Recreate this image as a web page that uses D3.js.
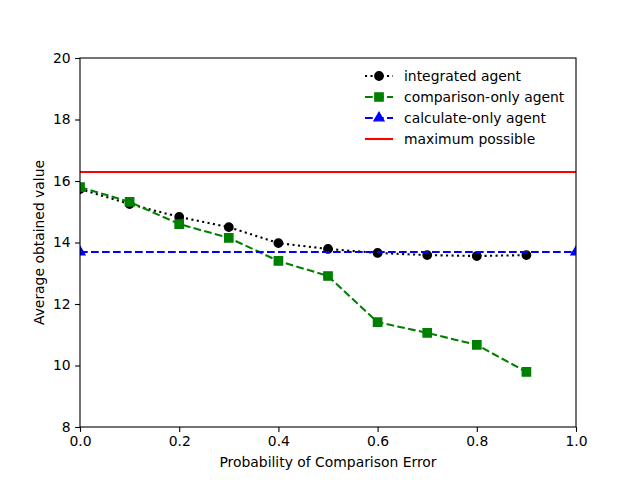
<!DOCTYPE html>
<html>
<head>
<meta charset="utf-8">
<script src="https://cdn.jsdelivr.net/npm/d3@7"></script>
<style>
  body { margin: 0; background: #fff; }
  svg { font-family: "DejaVu Sans", sans-serif; }
</style>
</head>
<body>
<div id="chart"></div>
<script>
// Data
const errorProb = [0, 0.1, 0.2, 0.3, 0.4, 0.5, 0.6, 0.7, 0.8, 0.9];
const integrated = [15.74, 15.25, 14.83, 14.50, 13.98, 13.79, 13.66, 13.59, 13.56, 13.59];
const comparisonOnly = [15.80, 15.32, 14.60, 14.15, 13.40, 12.91, 11.41, 11.06, 10.67, 9.79];
const calculateOnlyX = [0, 1];
const calculateOnly = [13.69, 13.69];
const maxPossible = 16.29;
const xTicks = [0, 0.2, 0.4, 0.6, 0.8, 1.0];
const yTicks = [8, 10, 12, 14, 16, 18, 20];

const W = 640, H = 480;
const margin = { left: 80, right: 64, top: 58, bottom: 53 };
const FS = 13.9;

const svg = d3.select("#chart").append("svg")
    .attr("width", W)
    .attr("height", H);

const x = d3.scaleLinear().domain([0, 1]).range([margin.left, W - margin.right]);
const y = d3.scaleLinear().domain([8, 20]).range([H - margin.bottom, margin.top]);

// clip to axes area (markers at the edges get cut, like matplotlib)
svg.append("clipPath").attr("id", "plot-clip")
    .append("rect")
    .attr("x", x(0)).attr("y", y(20))
    .attr("width", x(1) - x(0)).attr("height", y(8) - y(20));

const plot = svg.append("g").attr("clip-path", "url(#plot-clip)");

const series = [
    { name: "integrated agent", xs: errorProb, ys: integrated, color: "#000000", dash: "2.1,3.4", marker: "circle" },
    { name: "comparison-only agent", xs: errorProb, ys: comparisonOnly, color: "#008000", dash: "7.7,3.3", marker: "square" },
    { name: "calculate-only agent", xs: calculateOnlyX, ys: calculateOnly, color: "#0000ff", dash: "7.7,3.3", marker: "triangle" },
    { name: "maximum possible", xs: [0, 1], ys: [maxPossible, maxPossible], color: "#ff0000", dash: null, marker: null }
];

const symbolFor = {
    circle: d3.symbol().type(d3.symbolCircle).size(Math.PI * 4.2 * 4.2),
    square: d3.symbol().type(d3.symbolSquare).size(69),
    triangle: d3.symbol().type(d3.symbolTriangle).size(42)
};

const line = d3.line();

// draw red line first, then others in order
const drawOrder = [series[3], series[0], series[1], series[2]];
drawOrder.forEach(s => {
    const pts = s.xs.map((v, i) => [x(v), y(s.ys[i])]);
    plot.append("path")
        .attr("d", line(pts))
        .attr("fill", "none")
        .attr("stroke", s.color)
        .attr("stroke-width", 2.08)
        .attr("stroke-dasharray", s.dash);
    if (s.marker) {
        plot.selectAll(null)
            .data(pts)
            .join("path")
            .attr("d", symbolFor[s.marker])
            .attr("transform", d => `translate(${d[0]},${d[1]})`)
            .attr("fill", s.color)
            .attr("stroke", s.color)
            .attr("stroke-width", 1.4);
    }
});

// Axes
const xAxis = d3.axisBottom(x).tickValues(xTicks).tickFormat(d3.format(".1f")).tickSizeOuter(0).tickSize(4.9).tickPadding(4.5);
const yAxis = d3.axisLeft(y).tickValues(yTicks).tickFormat(d3.format("d")).tickSizeOuter(0).tickSize(4.9).tickPadding(4.5);

const gx = svg.append("g").attr("transform", `translate(0,${y(8)})`).call(xAxis);
const gy = svg.append("g").attr("transform", `translate(${x(0)},0)`).call(yAxis);
[gx, gy].forEach(g => {
    g.select(".domain").remove();
    g.selectAll("text").attr("font-size", FS).attr("fill", "#000").attr("font-family", "DejaVu Sans");
    g.selectAll("line").attr("stroke", "#000").attr("stroke-width", 1.1);
});

// Frame
svg.append("rect")
    .attr("x", x(0)).attr("y", y(20))
    .attr("width", x(1) - x(0)).attr("height", y(8) - y(20))
    .attr("fill", "none")
    .attr("stroke", "#000")
    .attr("stroke-width", 1.1);

// Axis labels
svg.append("text")
    .attr("x", (x(0) + x(1)) / 2)
    .attr("y", 467)
    .attr("text-anchor", "middle")
    .attr("font-size", FS)
    .text("Probability of Comparison Error");

svg.append("text")
    .attr("transform", `translate(44,${(y(8) + y(20)) / 2}) rotate(-90)`)
    .attr("text-anchor", "middle")
    .attr("font-size", FS)
    .text("Average obtained value");

// Legend (no frame)
const legend = svg.append("g");
series.forEach((s, i) => {
    const ly = 76 + i * 21;
    const row = legend.append("g").attr("transform", `translate(0,${ly})`);
    row.append("line")
        .attr("x1", 365).attr("x2", 393)
        .attr("y1", 0).attr("y2", 0)
        .attr("stroke", s.color)
        .attr("stroke-width", 2.08)
        .attr("stroke-dasharray", s.dash);
    if (s.marker) {
        row.append("path")
            .attr("d", symbolFor[s.marker])
            .attr("transform", "translate(379,0)")
            .attr("fill", s.color)
            .attr("stroke", s.color)
            .attr("stroke-width", 1.4);
    }
    row.append("text")
        .attr("x", 404)
        .attr("y", 0)
        .attr("dy", "0.35em")
        .attr("font-size", FS)
        .text(s.name);
});
</script>
</body>
</html>
